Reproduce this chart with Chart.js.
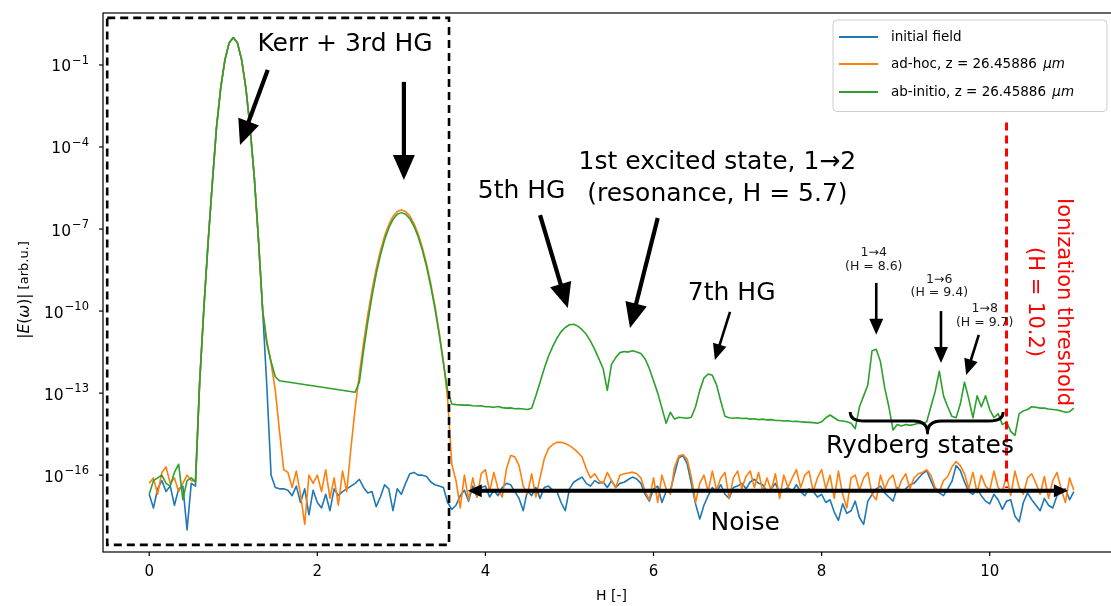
<!DOCTYPE html>
<html>
<head>
<meta charset="utf-8">
<title>Field spectrum</title>
<script src="https://cdn.jsdelivr.net/npm/chart.js@4.4.1/dist/chart.umd.min.js"></script>
<style>
  html, body { margin: 0; padding: 0; background: #fff; overflow: hidden; }
  #frame { width: 1122px; height: 606px; }
</style>
</head>
<body>
<div id="frame"><canvas id="spectrum" width="1122" height="606"></canvas></div>
<script>
// Harmonic order H of the spectral samples
const harmonicOrder = [
  0,0.05,0.1,0.15,0.2,0.25,0.3,0.35,0.4,0.45,0.5,0.55,0.6,0.65,0.7,0.75,0.8,0.85,0.9,0.95,
  1,1.05,1.1,1.15,1.2,1.25,1.3,1.35,1.4,1.45,1.5,1.55,1.6,1.65,1.7,1.75,1.8,1.85,1.9,1.95,
  2,2.05,2.1,2.15,2.2,2.25,2.3,2.35,2.4,2.45,2.5,2.55,2.6,2.65,2.7,2.75,2.8,2.85,2.9,2.95,
  3,3.05,3.1,3.15,3.2,3.25,3.3,3.35,3.4,3.45,3.5,3.55,3.6,3.65,3.7,3.75,3.8,3.85,3.9,3.95,
  4,4.05,4.1,4.15,4.2,4.25,4.3,4.35,4.4,4.45,4.5,4.55,4.6,4.65,4.7,4.75,4.8,4.85,4.9,4.95,
  5,5.05,5.1,5.15,5.2,5.25,5.3,5.35,5.4,5.45,5.5,5.55,5.6,5.65,5.7,5.75,5.8,5.85,5.9,5.95,
  6,6.05,6.1,6.15,6.2,6.25,6.3,6.35,6.4,6.45,6.5,6.55,6.6,6.65,6.7,6.75,6.8,6.85,6.9,6.95,
  7,7.05,7.1,7.15,7.2,7.25,7.3,7.35,7.4,7.45,7.5,7.55,7.6,7.65,7.7,7.75,7.8,7.85,7.9,7.95,
  8,8.05,8.1,8.15,8.2,8.25,8.3,8.35,8.4,8.45,8.5,8.55,8.6,8.65,8.7,8.75,8.8,8.85,8.9,8.95,
  9,9.05,9.1,9.15,9.2,9.25,9.3,9.35,9.4,9.45,9.5,9.55,9.6,9.65,9.7,9.75,9.8,9.85,9.9,9.95,
  10,10.05,10.1,10.15,10.2,10.25,10.3,10.35,10.4,10.45,10.5,10.55,10.6,10.65,10.7,10.75,10.8,10.85,10.9,10.95,
  11
];

// log10 |E(omega)| of the initial field
const initialFieldExp = [
  -16.7,-17.2,-16.5,-16.2,-16.6,-16.4,-17.1,-16.5,-16.4,-18.0,-16.3,-16.4,-12.6,-9.9,-7.5,-5.35,-3.3,-1.85,-0.82,-0.2,
  0,-0.2,-0.82,-1.85,-3.3,-5.1,-7.4,-10.0,-12.8,-16.0,-16.45,-16.5,-16.5,-16.55,-16.75,-16.4,-17.0,-16.5,-17.45,-16.55,
  -17.0,-17.2,-16.7,-17.3,-16.5,-16.75,-16.6,-16.5,-16.4,-16.3,-16.15,-16.45,-16.65,-16.6,-17.15,-16.8,-16.35,-16.5,-17.3,-16.5,
  -16.7,-16.3,-15.95,-15.9,-16.0,-16.0,-16.05,-16.25,-16.35,-16.4,-16.45,-17.0,-17.25,-17.1,-16.75,-16.55,-16.95,-16.4,-16.8,-16.45,
  -16.4,-16.8,-16.55,-16.75,-16.45,-16.3,-16.35,-16.6,-16.85,-17.3,-16.55,-16.75,-16.45,-16.85,-16.45,-16.4,-16.55,-16.6,-17.0,-17.3,
  -16.5,-16.26,-16.16,-16.07,-16.3,-16.4,-16.2,-16.3,-16.25,-16.45,-16.2,-16.45,-16.3,-16.26,-16.16,-16.07,-16.14,-16.3,-16.7,-16.95,
  -16.5,-16.4,-17.0,-16.6,-16.56,-15.95,-15.37,-15.28,-15.58,-16.32,-17.05,-17.6,-17.1,-16.75,-16.45,-16.6,-16.35,-16.7,-16.85,-16.45,
  -16.4,-16.3,-16.5,-16.25,-16.15,-16.3,-16.35,-16.6,-16.5,-16.3,-16.65,-16.55,-16.45,-16.6,-16.35,-16.6,-16.75,-16.5,-16.6,-16.8,
  -16.7,-17.0,-16.9,-17.35,-17.65,-17.05,-17.4,-17.3,-16.95,-17.55,-17.8,-16.95,-16.7,-16.5,-16.4,-16.65,-16.8,-16.95,-16.45,-16.6,
  -16.5,-16.35,-16.3,-16.12,-15.95,-15.83,-16.2,-16.55,-16.65,-16.75,-16.5,-16.23,-15.65,-15.83,-16.25,-16.6,-16.7,-16.5,-16.75,-16.95,
  -17.05,-16.7,-16.9,-17.25,-16.95,-16.9,-17.5,-17.7,-17.0,-16.65,-16.9,-17.1,-17.3,-16.85,-17.1,-17.2,-16.75,-16.55,-16.5,-16.9,
  -16.6
];

// log10 |E(omega)| of the ad-hoc propagation
const adHocExp = [
  -16.3,-16.1,-16.7,-15.9,-15.7,-16.3,-16.1,-16.6,-16.3,-16.0,-16.2,-16.2,-12.6,-9.9,-7.5,-5.35,-3.3,-1.85,-0.82,-0.2,
  0,-0.2,-0.82,-1.85,-3.3,-5.1,-7.4,-10.0,-11.1,-11.9,-12.9,-14.4,-15.8,-15.9,-16.45,-15.85,-16.7,-17.8,-16.0,-16.3,
  -16.0,-16.6,-15.8,-16.85,-16.1,-17.1,-15.85,-16.6,-15.0,-13.56,-12.3,-11.16,-10.14,-9.24,-8.46,-7.8,-7.26,-6.84,-6.54,-6.36,
  -6.3,-6.36,-6.52,-6.8,-7.18,-7.68,-8.28,-9.0,-9.82,-10.76,-11.85,-13.2,-15.6,-16.2,-17.2,-16.0,-16.9,-16.1,-16.8,-15.95,
  -15.8,-16.6,-15.9,-16.5,-16.8,-15.77,-15.28,-15.33,-15.65,-16.4,-16.7,-15.95,-16.8,-16.1,-15.4,-15.03,-14.88,-14.8,-14.8,-14.84,
  -14.92,-15.03,-15.17,-15.33,-15.77,-16.1,-15.95,-16.2,-16.3,-15.9,-16.2,-16.45,-16.0,-15.95,-15.92,-15.89,-15.95,-16.1,-16.6,-16.9,
  -16.1,-17.0,-16.0,-16.5,-16.7,-15.71,-15.3,-15.25,-15.42,-16.07,-17.0,-16.3,-16.0,-16.6,-15.85,-16.55,-16.1,-15.9,-16.85,-16.1,
  -15.85,-16.5,-16.05,-15.85,-16.45,-15.9,-16.6,-16.1,-16.55,-15.95,-16.85,-16.0,-16.45,-16.1,-15.8,-16.45,-16.0,-15.85,-16.6,-16.1,
  -15.8,-16.5,-16.0,-16.85,-15.85,-16.7,-17.2,-16.1,-16.0,-16.55,-16.1,-15.9,-16.7,-16.9,-16.0,-16.5,-16.15,-16.0,-16.6,-16.2,
  -15.95,-16.5,-16.1,-15.95,-15.9,-15.8,-16.0,-16.45,-16.6,-16.2,-16.05,-15.7,-15.5,-15.65,-15.95,-16.5,-15.9,-16.65,-16.0,-16.4,
  -16.55,-15.85,-16.45,-16.6,-16.0,-16.75,-15.85,-16.45,-16.7,-16.1,-15.95,-16.3,-16.7,-16.05,-16.85,-16.2,-15.9,-16.5,-17.0,-16.1,
  -16.55
];

// log10 |E(omega)| of the ab-initio propagation (null: no sample on that stretch)
const abInitioExp = [
  -16.7,-16.2,-16.1,-16.0,-16.3,-16.4,-15.9,-15.6,-16.9,-16.2,-16.1,-16.25,-12.6,-9.9,-7.5,-5.35,-3.3,-1.85,-0.82,-0.2,
  0,-0.2,-0.82,-1.85,-3.3,-5.1,-7.4,-10.0,-11.2,-11.85,-12.4,-12.55,null,null,null,null,null,null,null,null,
  null,null,null,null,null,null,null,null,null,-12.97,-12.6,-11.45,-10.4,-9.46,-8.65,-7.96,-7.4,-6.96,-6.65,-6.46,
  -6.4,-6.46,-6.62,-6.9,-7.28,-7.78,-8.38,-9.1,-9.92,-10.86,-11.9,-12.9,-13.4,-13.42,-13.43,-13.44,-13.44,-13.46,-13.47,-13.46,
  -13.5,-13.5,-13.52,-13.49,-13.53,-13.55,-13.54,-13.57,-13.56,-13.58,-13.6,-13.55,-13.1,-12.6,-12.1,-11.65,-11.3,-11.0,-10.75,-10.6,
  -10.5,-10.48,-10.55,-10.68,-10.85,-11.1,-11.4,-11.75,-12.1,-12.9,-11.95,-11.7,-11.52,-11.48,-11.5,-11.45,-11.5,-11.55,-11.75,-12.1,
  -12.55,-13.0,-13.55,-14.1,-13.7,-13.95,-13.88,-13.9,-13.92,-13.88,-13.5,-12.9,-12.45,-12.3,-12.35,-12.7,-13.3,-13.85,-13.9,-13.92,
  -13.9,-13.93,-13.92,-13.95,-13.94,-13.97,-13.95,-13.98,-13.97,-14.0,-14.0,-14.02,-14.01,-14.04,-14.03,-14.05,-14.06,-14.07,-14.08,-14.1,
  -14.05,-13.9,-13.8,-13.9,-14.0,-14.02,-14.05,-14.1,-14.3,-13.5,-13.1,-12.7,-11.45,-11.4,-11.85,-12.8,-13.5,-14.35,-14.15,-14.2,
  -14.15,-14.18,-14.15,-14.1,-14.12,-14.05,-13.5,-12.95,-12.2,-13.1,-13.5,-13.85,-13.9,-13.4,-12.6,-13.2,-13.9,-13.1,-13.5,-13.1,
  -13.6,-13.9,-13.75,-14.15,-14.05,-14.4,-14.55,-13.75,-13.65,-13.6,-13.5,-13.52,-13.55,-13.55,-13.58,-13.6,-13.62,-13.65,-13.7,-13.68,
  -13.55
];

const hTicks = [0, 2, 4, 6, 8, 10];
const fieldTickExps = [-16, -13, -10, -7, -4, -1];
const ionizationH = 10.2;

const seriesLabels = ['initial field', 'ad-hoc, z = 26.45886', 'ab-initio, z = 26.45886'];
const seriesColors = ['#1f77b4', '#ff7f0e', '#2ca02c'];

const SANS = '"DejaVu Sans", sans-serif';

function toPoints(exps) {
  return harmonicOrder.map((h, i) => ({ x: h, y: exps[i] === null ? null : Math.pow(10, exps[i]) }));
}

// Annotation geometry, in data coordinates [H, log10 |E|]
const calloutArrows = [
  { from: [1.41, -1.18], to: [1.08, -3.93], large: true },
  { from: [3.03, -1.62], to: [3.03, -5.21], large: true },
  { from: [4.65, -6.49], to: [4.98, -9.89], large: true },
  { from: [6.05, -6.60], to: [5.72, -10.62], large: true },
  { from: [6.91, -10.03], to: [6.73, -11.79], large: false },
  { from: [8.65, -8.97], to: [8.65, -10.87], large: false },
  { from: [9.42, -10.00], to: [9.42, -11.90], large: false },
  { from: [9.87, -10.87], to: [9.72, -12.34], large: false }
];
const calloutTexts = [
  { text: 'Kerr + 3rd HG', at: [2.33, -0.27], size: 25 },
  { text: '5th HG', at: [4.43, -5.64], size: 25 },
  { text: '1st excited state, 1\u21922', at: [6.76, -4.58], size: 25 },
  { text: '(resonance, H = 5.7)', at: [6.76, -5.72], size: 25 },
  { text: '7th HG', at: [6.93, -9.34], size: 25 },
  { text: 'Rydberg states', at: [9.17, -14.97], size: 25 },
  { text: 'Noise', at: [7.09, -17.75], size: 25 },
  { text: '1\u21924', at: [8.62, -7.88], size: 12.5 },
  { text: '(H = 8.6)', at: [8.62, -8.39], size: 12.5 },
  { text: '1\u21926', at: [9.40, -8.86], size: 12.5 },
  { text: '(H = 9.4)', at: [9.40, -9.34], size: 12.5 },
  { text: '1\u21928', at: [9.94, -9.92], size: 12.5 },
  { text: '(H = 9.7)', at: [9.94, -10.43], size: 12.5 }
];

function arrowHead(ctx, x0, y0, x1, y1, shaft, headW, headL) {
  const dx = x1 - x0, dy = y1 - y0, len = Math.hypot(dx, dy);
  const ux = dx / len, uy = dy / len;
  const bx = x1 - ux * headL, by = y1 - uy * headL;
  ctx.lineWidth = shaft;
  ctx.lineCap = 'butt';
  ctx.beginPath();
  ctx.moveTo(x0, y0);
  ctx.lineTo(bx + ux, by + uy);
  ctx.stroke();
  ctx.beginPath();
  ctx.moveTo(x1, y1);
  ctx.lineTo(bx - uy * headW / 2, by + ux * headW / 2);
  ctx.lineTo(bx + uy * headW / 2, by - ux * headW / 2);
  ctx.closePath();
  ctx.fill();
}

const annotations = {
  id: 'annotations',
  afterDatasetsDraw(chart) {
    const { ctx, scales: { x, y } } = chart;
    const X = h => x.getPixelForValue(h);
    const Y = e => y.getPixelForValue(Math.pow(10, e));
    ctx.save();

    // dashed frame around the driving-field region
    ctx.strokeStyle = '#000';
    ctx.lineWidth = 2.6;
    ctx.setLineDash([8, 5]);
    ctx.strokeRect(X(-0.5), Y(0.72), X(3.567) - X(-0.5), Y(-18.55) - Y(0.72));

    // ionization threshold
    ctx.strokeStyle = '#ff0000';
    ctx.lineWidth = 3;
    ctx.setLineDash([8, 5]);
    ctx.beginPath();
    ctx.moveTo(X(ionizationH), Y(-3.1));
    ctx.lineTo(X(ionizationH), Y(-16.47));
    ctx.stroke();
    ctx.setLineDash([]);

    // callout arrows
    ctx.strokeStyle = '#000';
    ctx.fillStyle = '#000';
    calloutArrows.forEach(a => {
      const [s, hw, hl] = a.large ? [4.2, 22, 25] : [2.6, 14, 16];
      arrowHead(ctx, X(a.from[0]), Y(a.from[1]), X(a.to[0]), Y(a.to[1]), s, hw, hl);
    });

    // double arrow spanning the noise floor
    const ny = Y(-16.57), nx0 = X(3.79), nx1 = X(10.93);
    ctx.lineWidth = 4;
    ctx.beginPath(); ctx.moveTo(nx0 + 12, ny); ctx.lineTo(nx1 - 12, ny); ctx.stroke();
    [[nx0, 1], [nx1, -1]].forEach(([tx, d]) => {
      ctx.beginPath();
      ctx.moveTo(tx, ny);
      ctx.lineTo(tx + d * 14, ny - 6.5);
      ctx.lineTo(tx + d * 14, ny + 6.5);
      ctx.closePath();
      ctx.fill();
    });

    // curly brace under the Rydberg lines
    const bx0 = X(8.34), bx1 = X(10.16), bxc = X(9.26);
    const byTop = Y(-13.69), byMid = Y(-14.02), byTip = Y(-14.46), r = 14;
    ctx.lineWidth = 3;
    ctx.lineJoin = 'round';
    ctx.beginPath();
    ctx.moveTo(bx0, byTop);
    ctx.quadraticCurveTo(bx0, byMid, bx0 + r, byMid);
    ctx.lineTo(bxc - r, byMid);
    ctx.quadraticCurveTo(bxc, byMid, bxc, byTip);
    ctx.quadraticCurveTo(bxc, byMid, bxc + r, byMid);
    ctx.lineTo(bx1 - r, byMid);
    ctx.quadraticCurveTo(bx1, byMid, bx1, byTop);
    ctx.stroke();

    // labels
    ctx.textAlign = 'center';
    ctx.textBaseline = 'middle';
    calloutTexts.forEach(t => {
      ctx.fillStyle = t.size < 20 ? '#1a1a1a' : '#000';
      ctx.font = t.size + 'px ' + SANS;
      ctx.fillText(t.text, X(t.at[0]), Y(t.at[1]));
    });

    // rotated threshold label
    ctx.save();
    ctx.translate(X(10.70), Y(-9.67));
    ctx.rotate(Math.PI / 2);
    ctx.fillStyle = '#ff0000';
    ctx.font = '21px ' + SANS;
    ctx.fillText('Ionization threshold', 0, -14.5);
    ctx.fillText('(H = 10.2)', 0, 14.5);
    ctx.restore();

    ctx.restore();
  },
  afterDraw(chart) {
    const { ctx, chartArea: a, scales: { x, y } } = chart;
    ctx.save();
    // axes frame
    ctx.strokeStyle = '#000';
    ctx.lineWidth = 1.2;
    ctx.strokeRect(a.left, a.top, a.right - a.left, a.bottom - a.top);

    // x ticks
    ctx.fillStyle = '#000';
    ctx.textAlign = 'center';
    ctx.textBaseline = 'middle';
    ctx.font = '15px ' + SANS;
    x.ticks.forEach(t => {
      const px = x.getPixelForValue(t.value);
      ctx.beginPath(); ctx.moveTo(px, a.bottom); ctx.lineTo(px, a.bottom + 4); ctx.stroke();
      ctx.fillText(String(t.value), px, a.bottom + 20);
    });
    ctx.font = '14px ' + SANS;
    ctx.fillText('H [-]', (a.left + a.right) / 2, a.bottom + 44);

    // y ticks with powers of ten
    ctx.textAlign = 'left';
    y.ticks.forEach(t => {
      const py = y.getPixelForValue(t.value);
      ctx.beginPath(); ctx.moveTo(a.left - 4, py); ctx.lineTo(a.left, py); ctx.stroke();
      const e = Math.round(Math.log10(t.value));
      const expStr = (e < 0 ? '\u2212' : '') + Math.abs(e);
      ctx.font = '11.5px ' + SANS;
      const we = ctx.measureText(expStr).width;
      ctx.font = '15.5px ' + SANS;
      const wb = ctx.measureText('10').width;
      const right = a.left - 14;
      ctx.textBaseline = 'alphabetic';
      ctx.fillText('10', right - we - wb - 1, py + 6.5);
      ctx.font = '11.5px ' + SANS;
      ctx.fillText(expStr, right - we, py - 1);
    });

    // y axis title
    ctx.save();
    ctx.translate(25, 290);
    ctx.rotate(-Math.PI / 2);
    const parts = [
      ['|', '15.5px '], ['E', 'italic 15.5px '], ['(', '15.5px '], ['\u03c9', 'italic 15.5px '],
      [')', '15.5px '], ['|', '15.5px '], [' [arb.u.]', '13px ']
    ];
    let total = 0;
    parts.forEach(p => { ctx.font = p[1] + SANS; total += ctx.measureText(p[0]).width; });
    let cx = -total / 2;
    ctx.textBaseline = 'middle';
    parts.forEach(p => { ctx.font = p[1] + SANS; ctx.fillText(p[0], cx, 0); cx += ctx.measureText(p[0]).width; });
    ctx.restore();

    // legend
    const lx = a.right - 287, ly = a.top + 7, lw = 274, lh = 91.5;
    ctx.beginPath();
    ctx.roundRect(lx, ly, lw, lh, 4);
    ctx.fillStyle = 'rgba(255,255,255,0.85)';
    ctx.fill();
    ctx.strokeStyle = '#cccccc';
    ctx.lineWidth = 1;
    ctx.stroke();
    const rowY = [ly + 17, ly + 44, ly + 72];
    seriesLabels.forEach((label, i) => {
      ctx.strokeStyle = seriesColors[i];
      ctx.lineWidth = 2;
      ctx.beginPath(); ctx.moveTo(lx + 6, rowY[i]); ctx.lineTo(lx + 45, rowY[i]); ctx.stroke();
      ctx.fillStyle = '#000';
      ctx.textBaseline = 'middle';
      ctx.font = '13.5px ' + SANS;
      ctx.fillText(label, lx + 58, rowY[i]);
      if (i > 0) {
        const w = ctx.measureText(label + ' ').width;
        ctx.font = 'italic 13.5px ' + SANS;
        ctx.fillText('\u03bcm', lx + 58 + w + 2, rowY[i]);
      }
    });
    ctx.restore();
  }
};

new Chart(document.getElementById('spectrum'), {
  type: 'line',
  data: {
    datasets: [
      { label: seriesLabels[0], data: toPoints(initialFieldExp), borderColor: seriesColors[0], order: 3 },
      { label: seriesLabels[1], data: toPoints(adHocExp), borderColor: seriesColors[1], order: 2 },
      { label: seriesLabels[2], data: toPoints(abInitioExp), borderColor: seriesColors[2], order: 1 }
    ]
  },
  options: {
    responsive: false,
    devicePixelRatio: 1,
    animation: false,
    events: [],
    spanGaps: true,
    layout: { padding: { top: 13, right: 2, left: 0, bottom: 0 } },
    elements: {
      line: { borderWidth: 1.6, tension: 0, borderJoinStyle: 'round', fill: false },
      point: { radius: 0 }
    },
    plugins: { legend: { display: false }, tooltip: { enabled: false } },
    scales: {
      x: {
        type: 'linear',
        min: -0.55,
        max: 11.55,
        afterBuildTicks: s => { s.ticks = hTicks.map(v => ({ value: v })); },
        afterFit: s => { s.height = 54; },
        ticks: { display: false },
        grid: { display: false },
        border: { display: false }
      },
      y: {
        type: 'logarithmic',
        min: Math.pow(10, -18.81),
        max: Math.pow(10, 0.9),
        afterBuildTicks: s => { s.ticks = fieldTickExps.map(e => ({ value: Math.pow(10, e) })); },
        afterFit: s => { s.width = 103; },
        ticks: { display: false },
        grid: { display: false },
        border: { display: false }
      }
    }
  },
  plugins: [annotations]
});
</script>
</body>
</html>
